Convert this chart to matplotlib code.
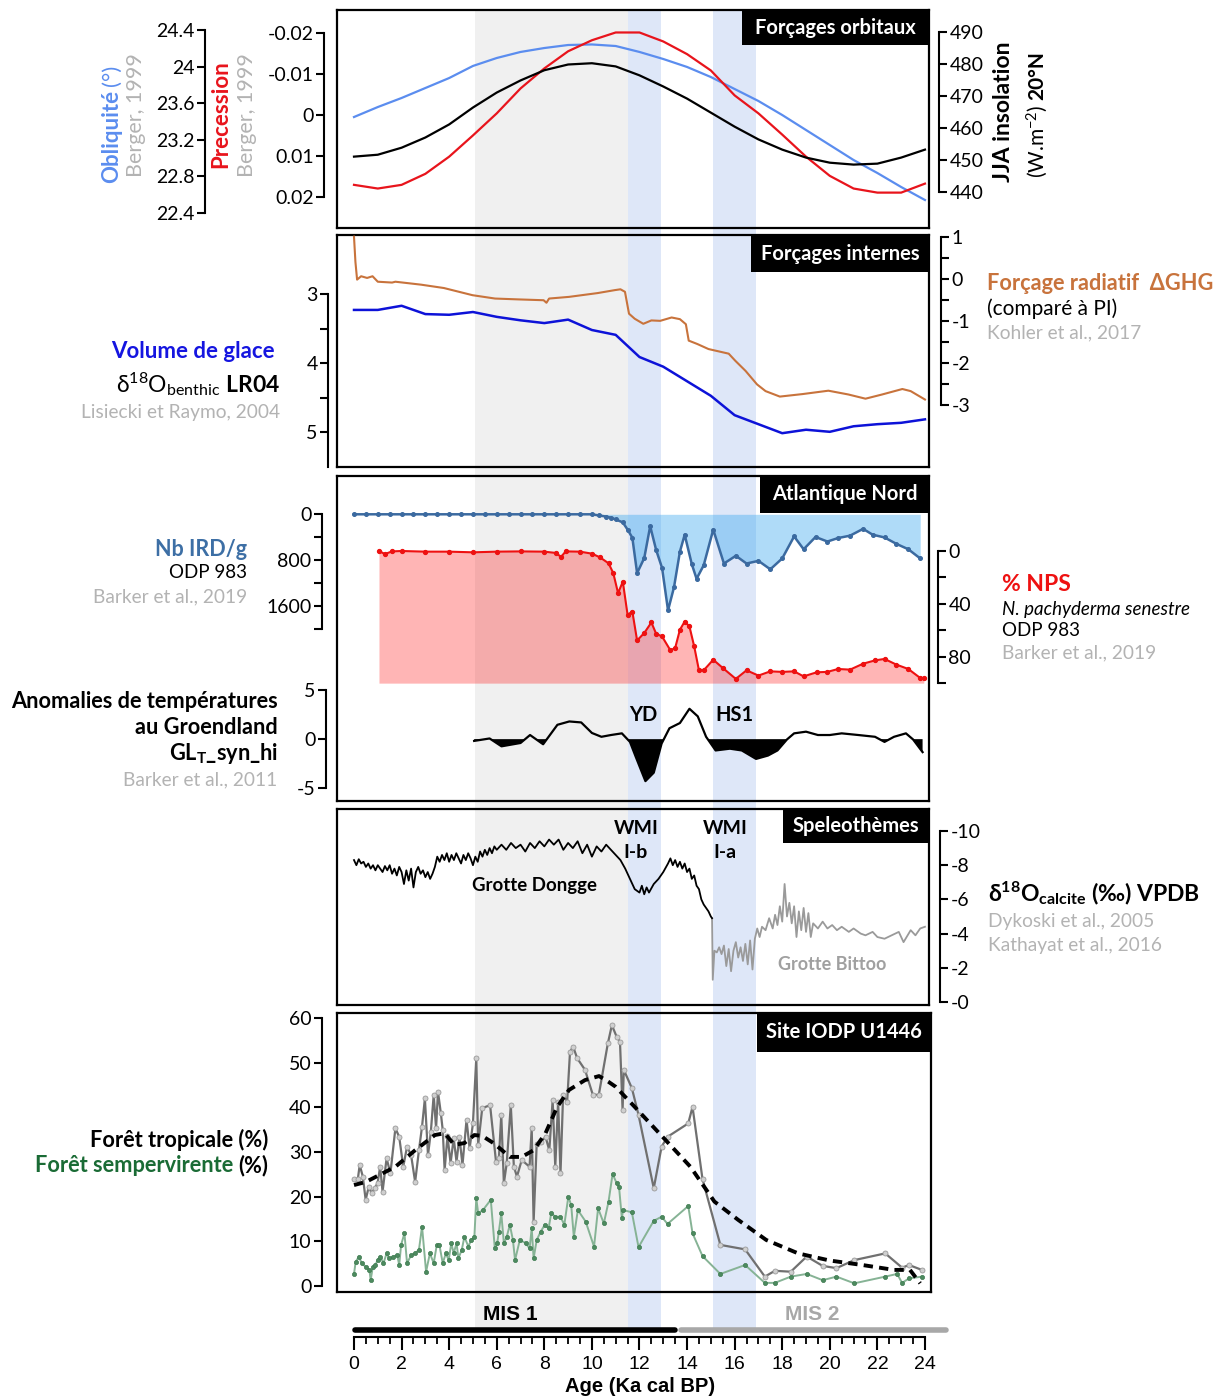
import numpy as np
import matplotlib.pyplot as plt
from matplotlib.patches import Rectangle
from matplotlib.ticker import FixedLocator

plt.rcParams['font.family'] = ['Lato', 'DejaVu Sans']
plt.rcParams['axes.unicode_minus'] = False
plt.rcParams['mathtext.fontset'] = 'custom'
plt.rcParams['mathtext.rm'] = 'Lato'
plt.rcParams['mathtext.it'] = 'Lato:italic'
plt.rcParams['mathtext.bf'] = 'Lato:bold'

# ---------------- data ----------------
# forcages orbitaux (Berger 1999), one value per ka
orb_age = [0, 1, 2, 3, 4, 5, 6, 7, 8, 9, 10, 11, 12, 13, 14, 15, 16, 17, 18, 19, 20, 21, 22, 23, 24]
obliquity = [23.449, 23.558, 23.657, 23.766, 23.875, 24.007, 24.094, 24.160, 24.203, 24.236, 24.242,
             24.225, 24.160, 24.083, 23.996, 23.886, 23.755, 23.624, 23.471, 23.307, 23.143, 22.979,
             22.837, 22.684, 22.542]
precession = [0.0171, 0.0180, 0.0171, 0.0144, 0.0102, 0.0050, -0.0004, -0.0065, -0.0114, -0.0156,
              -0.0183, -0.0202, -0.0202, -0.0180, -0.0149, -0.0109, -0.0048, -0.0004, 0.0048, 0.0102,
              0.0149, 0.0180, 0.0190, 0.0190, 0.0168]
insolation = [451.0, 451.6, 453.8, 457.0, 461.1, 466.4, 471.1, 474.9, 478.1, 479.9, 480.3, 479.3, 476.5,
              473.0, 469.2, 464.8, 460.4, 456.4, 453.2, 450.7, 449.1, 448.5, 448.8, 450.7, 453.2]

# forcages internes
ice_age = [0, 1, 2, 3, 4, 5, 6, 7, 8, 9, 10, 11, 12, 13, 14, 15, 16, 17, 18, 19, 20, 21, 22, 23, 24]
ice_d18o = [3.23, 3.23, 3.17, 3.29, 3.30, 3.26, 3.33, 3.38, 3.42, 3.37, 3.52, 3.59, 3.91, 4.05, 4.26,
            4.47, 4.75, 4.88, 5.01, 4.96, 4.99, 4.91, 4.88, 4.86, 4.81]
ghg_age = [0.0, 0.06, 0.13, 0.3, 0.55, 0.78, 1.0, 1.6, 1.74, 2.82, 3.78, 4.98, 5.93, 6.9, 7.97, 8.09,
           8.2, 9.04, 10.24, 10.96, 11.2, 11.39, 11.56, 11.8, 12.16, 12.5, 12.87, 13.35, 13.7, 13.95,
           14.07, 14.43, 14.9, 15.75, 16.03, 16.46, 16.94, 17.3, 17.9, 18.86, 19.94, 20.78, 21.5,
           22.2, 23.05, 23.4, 24.0]
ghg = [1.0, 0.4, -0.02, 0.06, 0.02, 0.06, -0.07, -0.09, -0.07, -0.14, -0.22, -0.39, -0.47, -0.49, -0.51,
       -0.57, -0.47, -0.43, -0.34, -0.27, -0.25, -0.31, -0.83, -0.95, -1.07, -0.99, -1.0, -0.92, -0.96,
       -1.08, -1.47, -1.55, -1.67, -1.78, -1.95, -2.19, -2.51, -2.67, -2.80, -2.74, -2.66, -2.75, -2.85,
       -2.75, -2.62, -2.67, -2.87]

# Atlantique Nord
ird_age = [0.0, 0.5, 1.0, 1.5, 2.0, 2.5, 3.0, 3.5, 4.0, 4.5, 5.0, 5.5, 6.0, 6.5, 7.0, 7.5, 8.0, 8.5,
           9.0, 9.5, 10.0, 10.3, 10.6, 10.8, 11.0, 11.3, 11.5, 11.7, 11.9, 12.2, 12.45, 12.7, 12.95,
           13.2, 13.45, 13.7, 13.9, 14.2, 14.4, 14.7, 15.1, 15.55, 16.05, 16.5, 17.0, 17.5, 18.0,
           18.5, 18.9, 19.4, 19.9, 20.35, 20.85, 21.4, 21.8, 22.3, 22.8, 23.3, 23.8]
ird = [0, 0, 0, 0, 0, 0, 0, 0, 0, 0, 0, 0, 0, 0, 0, 0, 0, 0, 0, 0, 0, 20, 40, 60, 89, 142, 267, 409,
       1026, 764, 208, 622, 937, 1676, 1275, 652, 356, 871, 1125, 889, 267, 859, 724, 859, 812, 960,
       770, 386, 610, 396, 475, 414, 373, 254, 356, 404, 516, 610, 770]
nps_age = [1.05, 1.3, 1.6, 2.0, 3.0, 4.0, 5.0, 6.0, 7.0, 8.0, 8.5, 8.7, 8.9, 9.5, 10.0, 10.34, 10.7,
           10.9, 11.1, 11.3, 11.5, 11.7, 11.9, 12.2, 12.5, 12.7, 12.95, 13.3, 13.5, 13.7, 13.9, 14.1,
           14.3, 14.5, 14.7, 15.1, 15.5, 16.05, 16.5, 17.0, 17.5, 18.0, 18.5, 18.9, 19.45, 19.9,
           20.35, 20.85, 21.4, 21.9, 22.3, 22.8, 23.3, 23.8, 23.95]
nps = [0, 2.3, 0.3, 0, 0.5, 0.5, 1, 0.5, 0.3, 0.5, 1.5, 4.5, 0.3, 0.5, 2.0, 4.8, 9.3, 16.8, 31.9, 23.2,
       48.3, 45.8, 67.7, 62.1, 54.1, 62.6, 64.7, 75.2, 73.4, 59.6, 53.4, 57.1, 72.2, 90.3, 90.3, 82.3,
       88.5, 96.8, 90.3, 94.3, 91.1, 91.5, 91.1, 94.9, 91.8, 91.5, 89.3, 89.8, 85.3, 82.8, 81.7, 86.0,
       89.3, 96.1, 96.1]
glt_age = [5.05, 5.7, 6.2, 7.0, 7.4, 7.95, 8.55, 9.05, 9.55, 10.0, 10.4, 10.8, 11.26, 11.6, 11.85,
           12.25, 12.6, 12.93, 13.26, 13.7, 14.1, 14.45, 14.8, 15.2, 15.8, 16.3, 16.9, 17.4, 17.8,
           18.2, 18.5, 19.0, 19.5, 20.0, 20.5, 21.2, 21.9, 22.3, 22.7, 23.2, 23.5, 23.9]
glt = [-0.18, 0.07, -0.73, -0.39, 0.42, -0.52, 1.46, 1.80, 1.70, 0.63, 0.24, 0.42, 0.59, -0.28, -1.84,
       -4.27, -3.41, -0.45, 1.11, 1.64, 3.09, 2.32, 0.24, -1.15, -0.97, -1.15, -2.01, -1.67, -1.15,
       -0.03, 0.59, 0.76, 0.42, 0.42, 0.59, 0.42, 0.24, -0.28, 0.24, 0.59, -0.03, -1.32]

# speleothemes
dongge_age = [0.0, 0.1, 0.2, 0.3, 0.4, 0.5, 0.6, 0.7, 0.8, 0.9, 1.0, 1.1, 1.2, 1.3, 1.4, 1.5, 1.6, 1.7,
              1.8, 1.9, 2.0, 2.1, 2.2, 2.3, 2.4, 2.5, 2.6, 2.7, 2.8, 2.9, 3.0, 3.1, 3.2, 3.3, 3.4, 3.5,
              3.6, 3.7, 3.8, 3.9, 4.0, 4.1, 4.2, 4.3, 4.4, 4.5, 4.6, 4.7, 4.8, 4.9, 5.0, 5.1, 5.2, 5.3,
              5.4, 5.5, 5.6, 5.7, 5.8, 5.9, 6.0, 6.2, 6.4, 6.6, 6.8, 7.0, 7.2, 7.4, 7.6, 7.8, 8.0, 8.2,
              8.4, 8.6, 8.8, 9.0, 9.2, 9.4, 9.6, 9.8, 10.0, 10.2, 10.4, 10.6, 10.8, 11.0, 11.2, 11.4,
              11.6, 11.8, 12.0, 12.1, 12.2, 12.3, 12.4, 12.6, 12.8, 13.0, 13.2, 13.3, 13.4, 13.5, 13.6,
              13.7, 13.8, 13.9, 14.0, 14.1, 14.2, 14.3, 14.4, 14.5, 14.6, 14.7, 14.8, 14.9, 15.0, 15.05]
dongge = [-8.3, -8.0, -8.35, -8.1, -8.2, -7.9, -8.1, -7.8, -8.0, -7.7, -8.0, -7.8, -7.6, -7.95, -7.7,
          -8.0, -7.5, -7.8, -7.4, -7.9, -7.6, -6.9, -7.7, -7.1, -7.8, -6.7, -7.6, -7.9, -7.5, -7.7, -7.3,
          -7.6, -7.2, -7.5, -7.9, -8.5, -8.2, -8.6, -8.3, -8.7, -8.2, -8.6, -8.3, -8.7, -8.4, -8.1, -8.6,
          -8.3, -8.7, -8.4, -8.0, -8.5, -8.2, -8.8, -8.5, -8.9, -8.6, -9.0, -8.7, -9.1, -8.9, -9.2, -8.9,
          -9.3, -9.0, -9.2, -8.8, -9.3, -9.0, -9.4, -9.1, -9.5, -9.2, -9.5, -8.9, -9.3, -9.0, -9.4, -8.7,
          -9.2, -8.5, -9.1, -8.8, -9.2, -8.9, -8.6, -8.3, -7.8, -7.2, -6.6, -6.4, -6.8, -6.3, -6.7, -6.4,
          -6.9, -7.2, -7.6, -8.1, -8.4, -8.0, -8.3, -7.9, -8.2, -7.8, -8.1, -7.6, -7.8, -7.2, -7.4, -6.8,
          -6.6, -6.0, -5.7, -5.5, -5.3, -5.0, -4.9]
bittoo_age = [15.05, 15.08, 15.15, 15.25, 15.35, 15.45, 15.55, 15.65, 15.75, 15.85, 15.95, 16.05, 16.15,
              16.25, 16.35, 16.45, 16.55, 16.65, 16.75, 16.85, 16.95, 17.05, 17.15, 17.3, 17.45, 17.6,
              17.7, 17.8, 17.9, 18.0, 18.1, 18.2, 18.3, 18.4, 18.5, 18.6, 18.7, 18.8, 18.9, 19.0, 19.1,
              19.2, 19.3, 19.5, 19.7, 19.9, 20.1, 20.3, 20.5, 20.8, 21.0, 21.3, 21.5, 21.8, 22.0, 22.3,
              22.6, 22.9, 23.1, 23.4, 23.6, 23.8, 24.0]
bittoo = [-4.9, -1.3, -3.0, -2.9, -3.2, -2.8, -3.3, -2.1, -3.1, -1.8, -3.0, -3.5, -2.6, -3.2, -2.4, -3.4,
          -2.2, -3.6, -1.9, -3.7, -4.3, -3.8, -4.4, -4.2, -4.9, -4.3, -5.1, -4.5, -5.6, -4.7, -6.9, -5.0,
          -5.8, -4.6, -5.6, -3.8, -5.3, -4.2, -5.5, -4.1, -5.2, -3.8, -4.6, -4.3, -4.7, -4.3, -4.5, -4.2,
          -4.4, -4.1, -4.3, -4.0, -3.9, -4.1, -3.8, -3.7, -3.9, -4.1, -3.5, -4.2, -3.9, -4.3, -4.4]

# site IODP U1446
trop_age = [0.0, 0.16, 0.24, 0.37, 0.49, 0.62, 0.74, 0.87, 0.99, 1.1, 1.2, 1.37, 1.53, 1.74, 1.9, 2.07,
            2.23, 2.4, 2.57, 2.73, 2.86, 2.98, 3.11, 3.23, 3.35, 3.45, 3.53, 3.65, 3.73, 3.81, 3.93,
            4.06, 4.19, 4.31, 4.43, 4.56, 4.73, 4.86, 5.0, 5.14, 5.22, 5.39, 5.72, 5.97, 6.09, 6.19,
            6.3, 6.42, 6.59, 6.72, 6.85, 7.05, 7.38, 7.47, 7.55, 7.68, 7.88, 8.05, 8.21, 8.35, 8.46,
            8.58, 8.68, 8.79, 8.96, 9.08, 9.21, 9.38, 9.71, 10.04, 10.29, 10.67, 10.84, 11.04, 11.18,
            11.29, 11.34, 11.68, 11.96, 12.6, 12.93, 13.18, 14.05, 14.23, 14.65, 15.4, 16.44, 17.27,
            17.69, 18.36, 19.03, 19.7, 20.28, 21.03, 22.33, 23.04, 23.33, 23.87]
trop = [23.9, 23.9, 27.1, 24.5, 19.3, 22.2, 20.8, 21.9, 23.0, 26.7, 21.1, 28.6, 25.2, 35.3, 33.4, 26.7,
        31.2, 29.3, 23.3, 30.4, 35.7, 42.0, 29.3, 34.5, 42.8, 35.3, 43.5, 38.7, 34.9, 26.0, 33.6, 27.5,
        33.1, 27.8, 33.4, 27.1, 37.2, 30.8, 36.4, 51.0, 31.6, 39.8, 40.5, 27.8, 28.6, 38.3, 23.0, 27.5,
        40.5, 26.7, 24.5, 28.2, 26.7, 35.3, 14.4, 31.9, 32.3, 33.4, 30.4, 41.6, 26.7, 41.3, 25.2, 42.8,
        41.3, 52.4, 53.6, 51.0, 48.4, 42.8, 42.8, 54.3, 58.4, 55.8, 54.7, 39.4, 48.4, 44.3, 38.3, 21.9,
        31.2, 33.4, 36.4, 40.1, 23.9, 9.2, 8.2, 2.1, 3.4, 3.2, 6.6, 4.5, 4.0, 5.8, 7.3, 4.1, 4.7, 3.6]
ever_age = [0.0, 0.07, 0.21, 0.32, 0.49, 0.65, 0.7, 0.79, 0.9, 0.99, 1.1, 1.24, 1.37, 1.48, 1.65, 1.82,
            1.9, 1.98, 2.12, 2.23, 2.4, 2.56, 2.73, 2.86, 3.03, 3.19, 3.35, 3.48, 3.59, 3.73, 3.86, 3.98,
            4.09, 4.19, 4.31, 4.39, 4.53, 4.64, 4.81, 4.92, 5.06, 5.14, 5.22, 5.42, 5.75, 5.92, 6.02,
            6.09, 6.19, 6.3, 6.42, 6.55, 6.68, 6.77, 6.97, 7.22, 7.38, 7.47, 7.55, 7.68, 7.85, 8.02,
            8.18, 8.29, 8.46, 8.68, 8.84, 9.01, 9.13, 9.24, 9.41, 9.74, 10.09, 10.26, 10.5, 10.7, 10.87,
            11.04, 11.14, 11.26, 11.31, 11.68, 11.96, 12.6, 12.93, 13.18, 14.05, 14.23, 14.65, 15.4,
            16.44, 17.27, 17.69, 18.36, 19.03, 19.7, 20.28, 21.03, 22.33, 22.83, 23.04, 23.33, 23.87]
ever = [2.7, 5.4, 6.6, 5.1, 4.3, 3.6, 1.3, 4.3, 4.7, 5.8, 6.6, 5.1, 7.3, 6.2, 6.6, 6.9, 4.7, 9.2, 11.8,
        5.1, 6.9, 7.3, 8.1, 13.3, 3.2, 7.3, 5.1, 9.2, 9.2, 5.1, 7.3, 5.8, 9.6, 7.3, 9.6, 6.2, 8.1, 11.0,
        8.8, 10.3, 11.0, 19.6, 16.3, 17.0, 19.3, 8.4, 9.6, 12.2, 16.3, 9.6, 11.0, 13.7, 10.3, 5.8, 10.3,
        9.6, 8.4, 12.9, 6.2, 10.3, 12.2, 13.7, 12.9, 16.3, 15.5, 15.5, 13.7, 20.0, 18.1, 11.0, 17.0,
        14.4, 8.8, 17.4, 14.0, 18.9, 25.1, 23.0, 22.2, 15.2, 17.0, 16.5, 8.7, 14.6, 15.5, 13.9, 17.9,
        11.8, 6.7, 2.7, 4.7, 0.7, 0.7, 2.1, 2.7, 1.3, 2.1, 0.6, 2.1, 2.7, 0.7, 1.7, 2.1]
smooth_age = [0.0, 0.5, 1.74, 2.57, 3.4, 3.81, 4.22, 4.64, 5.06, 5.39, 5.89, 6.55, 7.05, 7.55, 8.05,
              8.54, 9.04, 9.71, 10.3, 10.7, 11.0, 11.8, 12.97, 14.14, 15.15, 16.15, 17.33, 18.67, 20.0,
              21.37, 22.7, 23.37, 23.8]
smooth = [22.6, 23.3, 26.7, 30.4, 33.8, 34.2, 31.6, 32.0, 33.8, 33.6, 31.9, 28.9, 28.9, 30.4, 34.2, 40.1,
          43.9, 46.1, 47.0, 45.7, 44.6, 40.1, 33.4, 26.7, 18.9, 14.8, 10.3, 7.3, 5.7, 4.7, 3.6, 3.6, 0.6]

# periodes
gray_band = (5.1, 11.5)
blue_bands = [(11.5, 12.9), (15.1, 16.9)]

# ---------------- layout helpers (pixels) ----------------
W, H = 1223, 1396
fig = plt.figure(figsize=(W / 100, H / 100), dpi=100)
R = fig.canvas.get_renderer()

GRAY = '#b3b3b3'
TS = 14
REF = 13.8


def age(x):
    return (x - 354) / 23.79


def rect(x0, y0, x1, y1):
    return [x0 / W, 1 - y1 / H, (x1 - x0) / W, (y1 - y0) / H]


def ftext(x, y, s, **kw):
    kw.setdefault('ha', 'left')
    kw.setdefault('va', 'center')
    return fig.text(x / W, 1 - y / H, s, **kw)


def title_box(x0, y0, x1, y1, s):
    fig.add_artist(Rectangle((x0 / W, 1 - y1 / H), (x1 - x0) / W, (y1 - y0) / H,
                             transform=fig.transFigure, fc='black', ec='none', zorder=10))
    fig.text((x0 + x1) / 2 / W, 1 - (y0 + y1) / 2 / H, s, color='white', weight='bold',
             fontsize=14.5, ha='center', va='center', zorder=11)


def up_after(t, x, s, gap=4, **kw):
    # rotated text continued above an other rotated text
    bb = t.get_window_extent(R)
    return fig.text(x / W, (bb.y1 + gap) / H, s, rotation=90, ha='center', va='bottom', **kw)


def left_of(t, y, s, gap=5, **kw):
    bb = t.get_window_extent(R)
    return fig.text((bb.x0 - gap) / W, 1 - y / H, s, ha='right', va='center', **kw)


def panel(x0, y0, x1, y1):
    ax = fig.add_axes(rect(x0, y0, x1, y1))
    ax.set_xlim(age(x0), age(x1))
    ax.set_facecolor('none')
    ax.set_xticks([])
    ax.set_yticks([])
    for s in ax.spines.values():
        s.set_linewidth(1.6)
    ax.set_zorder(2)
    ax.box = (x0, y0, x1, y1)
    return ax


def scale(ax, side, xpix, ref, bounds, major, labels, minor=()):
    x0, y0, x1, y1 = ax.box
    (pa, va), (pb, vb) = ref
    k = (vb - va) / (pb - pa)
    t = ax.twinx()
    t.set_ylim(va + (y1 - pa) * k, va + (y0 - pa) * k)
    for s in t.spines.values():
        s.set_visible(False)
    sp = t.spines[side]
    sp.set_visible(True)
    sp.set_position(('axes', (xpix - x0) / (x1 - x0)))
    sp.set_bounds(*bounds)
    sp.set_linewidth(1.5)
    if side == 'left':
        t.yaxis.tick_left()
    else:
        t.yaxis.tick_right()
    t.set_yticks(major)
    t.set_yticklabels(labels)
    t.yaxis.set_minor_locator(FixedLocator(list(minor)))
    t.tick_params(axis='y', which='both', direction='out', length=6, width=1.5,
                  labelsize=TS, pad=1.5)
    t.set_zorder(2)
    return t


# ---------------- background shading ----------------
bg = fig.add_axes(rect(337, 10, 931, 1330))
bg.set_xlim(age(337), age(931))
bg.axis('off')
bg.set_zorder(-5)
bg.axvspan(*gray_band, color='#f0f0f0', lw=0)
for b in blue_bands:
    bg.axvspan(*b, color='#dee7f8', lw=0)

# ---------------- panel 1 : orbital ----------------
p1 = panel(337, 10, 929, 228)
a_obl = scale(p1, 'left', 205, ((30, 24.4), (213, 22.4)), (22.4, 24.4),
              [22.4, 22.8, 23.2, 23.6, 24.0, 24.4], ['22.4', '22.8', '23.2', '23.6', '24', '24.4'])
a_pre = scale(p1, 'left', 324, ((33.3, -0.02), (196.7, 0.02)), (-0.02, 0.02),
              [-0.02, -0.01, 0, 0.01, 0.02], ['-0.02', '-0.01', '0', '0.01', '0.02'])
a_ins = scale(p1, 'right', 939, ((32.3, 490), (191.7, 440)), (440, 490),
              [440, 450, 460, 470, 480, 490], ['440', '450', '460', '470', '480', '490'])
a_obl.plot(orb_age, obliquity, color='#5b8def', lw=1.6)
a_ins.plot(orb_age, insolation, color='black', lw=1.6)
a_pre.plot(orb_age, precession, color='#e8141c', lw=1.6)
title_box(742, 10, 929, 45, 'Forçages orbitaux')

t = ftext(112, 183, 'Obliquité', rotation=90, ha='center', va='bottom', color='#5b8def',
          weight='bold', fontsize=16)
up_after(t, 112, '(°)', color='#5b8def', fontsize=16)
ftext(136, 115, 'Berger, 1999', rotation=90, ha='center', color=GRAY, fontsize=15.5)
ftext(221, 114, 'Precession', rotation=90, ha='center', color='#e8141c', weight='bold', fontsize=16)
ftext(247, 115, 'Berger, 1999', rotation=90, ha='center', color=GRAY, fontsize=15.5)
ftext(1004, 112, 'JJA insolation', rotation=90, ha='center', weight='bold', fontsize=16.5)
t = ftext(1037, 178, '(W.m$^{-2}$)', rotation=90, ha='center', va='bottom', fontsize=15)
up_after(t, 1037, '20°N', weight='bold', fontsize=15)

# ---------------- panel 2 : internal ----------------
p2 = panel(337, 235, 929, 467)
a_ice = scale(p2, 'left', 328, ((294, 3), (432.5, 5)), (3, 5.5), [3, 4, 5], ['3', '4', '5'],
              minor=[3.5, 4.5, 5.5])
a_ghg = scale(p2, 'right', 941, ((236.7, 1), (405, -3)), (-3, 1), [-3, -2, -1, 0, 1],
              ['-3', '-2', '-1', '0', '1'], minor=[-2.5, -1.5, -0.5, 0.5])
a_ice.plot(ice_age, ice_d18o, color='#0d12d8', lw=1.8)
a_ghg.plot(ghg_age, ghg, color='#c8733c', lw=1.5)
title_box(751, 235, 929, 272, 'Forçages internes')

ftext(275, 352, 'Volume de glace', ha='right', color='#1515e0', weight='bold', fontsize=16)
ftext(280, 384, r'δ$^{18}$O$_{\mathrm{benthic}}$ $\mathbf{LR04}$', ha='right', fontsize=16.5)
ftext(280, 412, 'Lisiecki et Raymo, 2004', ha='right', color=GRAY, fontsize=REF)
ftext(987, 284, 'Forçage radiatif  ΔGHG', color='#c8733c', weight='bold', fontsize=15.7)
ftext(987, 309, '(comparé à PI)', fontsize=15)
ftext(987, 333, 'Kohler et al., 2017', color=GRAY, fontsize=REF)

# ---------------- panel 3 : North Atlantic ----------------
p3 = panel(337, 476, 929, 801)
a_ird = scale(p3, 'left', 322, ((514.3, 0), (606, 1600)), (0, 2000), [0, 800, 1600],
              ['0', '800', '1600'], minor=[400, 1200, 2000])
a_nps = scale(p3, 'right', 938, ((551, 0), (656.7, 80)), (0, 100), [0, 40, 80],
              ['0', '40', '80'], minor=[20, 60, 100])
a_glt = scale(p3, 'left', 326, ((690, 5), (788.3, -5)), (-5, 5), [-5, 0, 5], ['-5', '0', '5'])

a_nps.fill_between(nps_age, nps, 100, color='#ff2020', alpha=0.33, lw=0)
a_nps.plot(nps_age, nps, color='#ee1111', lw=1.5, marker='o', ms=2.8)
a_ird.fill_between(ird_age, 0, ird, color='#38a6ef', alpha=0.4, lw=0)
a_ird.plot(ird_age, ird, color='#3b6aa0', lw=1.8, marker='o', ms=2.6)
glt_arr = np.array(glt)
a_glt.fill_between(glt_age, glt_arr, 0, where=glt_arr < 0, interpolate=True, color='black', lw=0)
a_glt.plot(glt_age, glt, color='black', lw=1.6)
title_box(760, 476, 929, 513, 'Atlantique Nord')

ftext(643, 715, 'YD', ha='center', weight='bold', fontsize=14.5)
ftext(734, 715, 'HS1', ha='center', weight='bold', fontsize=14.5)
ftext(247, 550, 'Nb IRD/g', ha='right', color='#3d6fa5', weight='bold', fontsize=15.5)
ftext(247, 573, 'ODP 983', ha='right', fontsize=13.5)
ftext(247, 597, 'Barker et al., 2019', ha='right', color=GRAY, fontsize=REF)
ftext(278, 701, 'Anomalies de températures', ha='right', weight='bold', fontsize=15.7)
ftext(278, 727, 'au Groendland', ha='right', weight='bold', fontsize=15.7)
ftext(278, 753, r'GL$_{\mathbf{T}}$_syn_hi', ha='right', weight='bold', fontsize=15.7)
ftext(277, 780, 'Barker et al., 2011', ha='right', color=GRAY, fontsize=REF)
ftext(1002, 584, '% NPS', color='#ee1111', weight='bold', fontsize=16.5)
ftext(1002, 609, 'N. pachyderma senestre', style='italic', fontsize=13.5)
ftext(1002, 631, 'ODP 983', fontsize=13.5)
ftext(1002, 653, 'Barker et al., 2019', color=GRAY, fontsize=REF)

# ---------------- panel 4 : speleothems ----------------
p4 = panel(337, 809, 929, 1005)
a_spe = scale(p4, 'right', 940, ((831, -10), (1002, 0)), (-10, 0), [-10, -8, -6, -4, -2, 0],
              ['-10', '-8', '-6', '-4', '-2', '-0'])
a_spe.plot(bittoo_age, bittoo, color='#9a9a9a', lw=1.3)
a_spe.plot(dongge_age, dongge, color='black', lw=1.3)
title_box(783, 809, 929, 843, 'Speleothèmes')

for xw, sub in [(636, 'I-b'), (725, 'I-a')]:
    ftext(xw, 828, 'WMI', ha='center', weight='bold', fontsize=14)
    ftext(xw, 853, sub, ha='center', weight='bold', fontsize=14)
ftext(534, 885, 'Grotte Dongge', ha='center', weight='bold', fontsize=13.4)
ftext(832, 964, 'Grotte Bittoo', ha='center', weight='bold', color='#a0a0a0', fontsize=13)
ftext(988, 893, r'δ$^{\mathbf{18}}$O$_{\mathbf{calcite}}$ (‰) VPDB', weight='bold', fontsize=16.5)
ftext(988, 922, 'Dykoski et al., 2005', color=GRAY, fontsize=REF)
ftext(988, 945, 'Kathayat et al., 2016', color=GRAY, fontsize=REF)

# ---------------- panel 5 : IODP U1446 ----------------
p5 = panel(337, 1013, 931, 1292)
a_for = scale(p5, 'left', 322, ((1286, 0), (1018, 60)), (0, 60), [0, 10, 20, 30, 40, 50, 60],
              ['0', '10', '20', '30', '40', '50', '60'])
a_for.plot(trop_age, trop, color='#707070', lw=1.6, marker='o', ms=3.6,
           mfc='#cfcfcf', mec='#9a9a9a', mew=0.6)
a_for.plot(ever_age, ever, color='#86b395', lw=1.4, marker='o', ms=3.0,
           mfc='#4d8a5f', mec='#3c7a4f', mew=0.5)
a_for.plot(smooth_age, smooth, color='black', lw=2.8, ls=(0, (2.4, 1.6)))
title_box(757, 1013, 931, 1052, 'Site IODP U1446')

ftext(268, 1140, 'Forêt tropicale (%)', ha='right', weight='bold', fontsize=15.7)
t = ftext(268, 1166, '(%)', ha='right', weight='bold', fontsize=15.7)
left_of(t, 1166, 'Forêt sempervirente', gap=5, weight='bold', color='#1a6b35', fontsize=15.7)

# ---------------- bottom age axis ----------------
axb = fig.add_axes(rect(337, 1290, 931, 1337))
axb.set_xlim(age(337), age(931))
axb.set_ylim(0, 1)
axb.patch.set_visible(False)
for s in ['top', 'left', 'right']:
    axb.spines[s].set_visible(False)
axb.spines['bottom'].set_bounds(0, 24)
axb.spines['bottom'].set_linewidth(1.5)
axb.set_yticks([])
axb.set_xticks(range(0, 25, 2))
axb.xaxis.set_minor_locator(FixedLocator([v / 2 for v in range(0, 49)]))
axb.tick_params(axis='x', which='major', length=9, width=1.5, labelsize=14, pad=5)
axb.tick_params(axis='x', which='minor', length=5, width=1.3)
for lab in axb.get_xticklabels():
    lab.set_fontfamily(['Liberation Sans', 'DejaVu Sans'])
mis1 = (0.05, 13.5)
mis2 = (13.75, 24.9)
axb.plot(mis1, [0.15, 0.15], color='black', lw=4, solid_capstyle='round', clip_on=False)
axb.plot(mis2, [0.15, 0.15], color='#a8a8a8', lw=4, solid_capstyle='round', clip_on=False)
ftext(510, 1314, 'MIS 1', ha='center', weight='bold', fontsize=15,
      family=['Liberation Sans Narrow', 'Liberation Sans', 'DejaVu Sans'])
ftext(812, 1314, 'MIS 2', ha='center', weight='bold', fontsize=15, color='#a8a8a8',
      family=['Liberation Sans Narrow', 'Liberation Sans', 'DejaVu Sans'])
ftext(640, 1386, 'Age (Ka cal BP)', ha='center', weight='bold', fontsize=14.5,
      family=['Liberation Sans', 'DejaVu Sans'])

fig.savefig('out.png', dpi=100)
